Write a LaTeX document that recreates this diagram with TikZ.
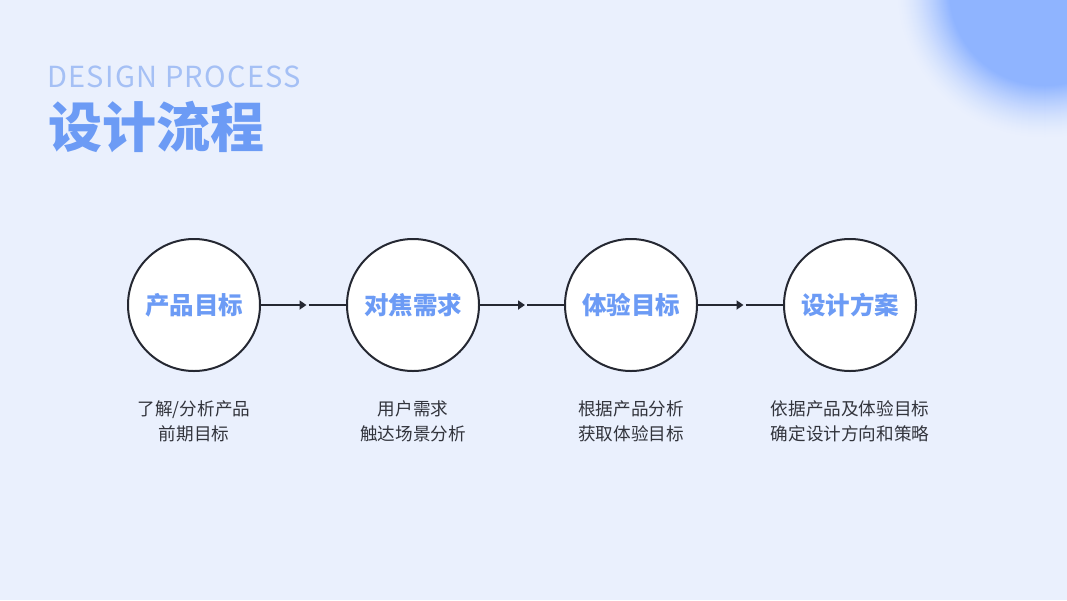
\documentclass[tikz,border=0pt]{standalone}
\usepackage{fontspec}
\setmainfont{Noto Sans CJK SC}
\newfontfamily\subfont[LetterSpace=4.5]{Noto Sans CJK SC}
\usetikzlibrary{arrows.meta,calc}
\definecolor{bg}{RGB}{234,240,253}
\definecolor{blob}{RGB}{143,180,255}
\definecolor{titleblue}{RGB}{108,155,245}
\definecolor{subblue}{RGB}{165,192,245}
\definecolor{ink}{RGB}{37,40,50}
\definecolor{desc}{RGB}{50,52,60}
\tikzset{
  stepcircle/.style={circle, draw=ink, line width=2pt, fill=white, minimum size=132pt, inner sep=0pt,
    font=\fontsize{24.5}{28}\selectfont\bfseries, text=titleblue},
  desctext/.style={align=center, font=\fontsize{17.6}{25}\selectfont, text=desc},
  conn/.style={draw=ink, line width=2pt},
  connarrow/.style={conn, -{Triangle[length=7pt,width=9pt]}}
}
\begin{document}
\begin{tikzpicture}[x=1pt,y=-1pt]
\useasboundingbox (0,0) rectangle (1067,600);
\fill[bg] (0,0) rectangle (1067,600);
\begin{scope}
\clip (0,0) rectangle (1067,600);
\foreach \r in {150,149,...,96}{
  \pgfmathsetmacro{\p}{100*(1-((\r-96)/54))^1.6}
  \fill[blob!\p!bg] (1045,-10) circle (\r);
}
\end{scope}
\node[anchor=base west, inner sep=0pt, text=subblue, font=\fontsize{29}{32}\subfont] (sub) at (47,87) {DESIGN PROCESS};
\node[anchor=base west, inner sep=0pt, text=titleblue, font=\fontsize{54}{60}\selectfont\bfseries] (title) at (48,147) {设计流程};

\node[stepcircle] (c1) at (194,305) {产品目标};
\node[stepcircle] (c2) at (413,305) {对焦需求};
\node[stepcircle] (c3) at (631,305) {体验目标};
\node[stepcircle] (c4) at (850,305) {设计方案};

\foreach \a/\b in {c1/c2,c2/c3,c3/c4}{
  \coordinate (m\a) at ($(\a.east)!0.5!(\b.west)$);
  \draw[connarrow] (\a.east) -- ($(m\a)+(3,0)$);
  \draw[conn] ($(m\a)+(5,0)$) -- (\b.west);
}

\node[desctext] (d1) at (194,421) {了解/分析产品\\前期目标};
\node[desctext] (d2) at (413,421) {用户需求\\触达场景分析};
\node[desctext] (d3) at (631,421) {根据产品分析\\获取体验目标};
\node[desctext] (d4) at (850,421) {依据产品及体验目标\\确定设计方向和策略};
\end{tikzpicture}
\end{document}
